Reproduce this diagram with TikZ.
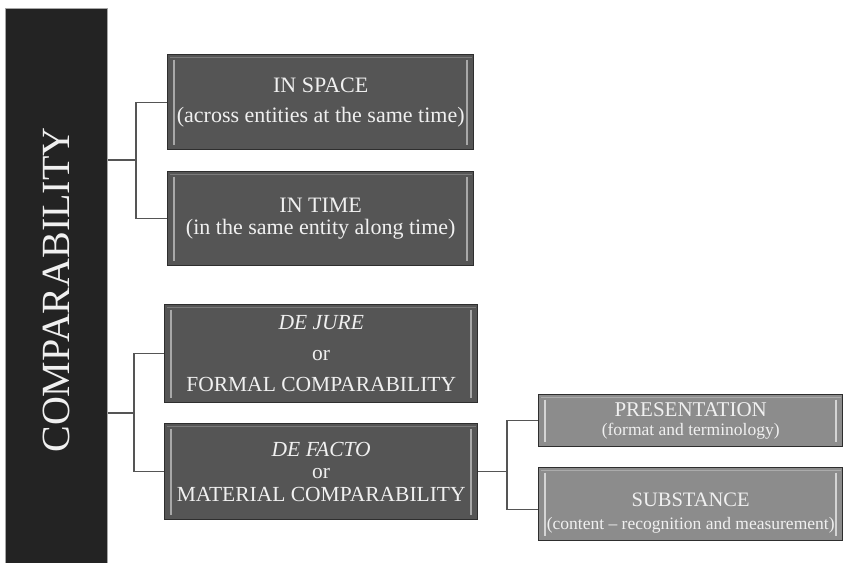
\documentclass[tikz,border=0pt]{standalone}
\usepackage{fontspec}
\setmainfont{Liberation Serif}
\definecolor{barc}{HTML}{232323}
\definecolor{darkbox}{HTML}{555555}
\definecolor{lightbox}{HTML}{8C8C8C}
\definecolor{edgec}{HTML}{2E2E2E}
\definecolor{txtc}{HTML}{F0F0F0}
\definecolor{connc}{HTML}{555555}
\definecolor{bevd}{HTML}{A8A8A8}
\definecolor{bevdt}{HTML}{7A7A7A}
\definecolor{bevl}{HTML}{D4D4D4}
\definecolor{bevlt}{HTML}{ABABAB}
\begin{document}
\begin{tikzpicture}[x=1pt,y=-1pt,
  bevel/.style 2 args={path picture={
    \draw[line width=1.6pt, draw=#1]
      ([shift={(6.5pt,-5pt)}]path picture bounding box.north west) --
      ([shift={(6.5pt,5pt)}]path picture bounding box.south west);
    \draw[line width=1.6pt, draw=#1]
      ([shift={(-6.5pt,-5pt)}]path picture bounding box.north east) --
      ([shift={(-6.5pt,5pt)}]path picture bounding box.south east);
    \draw[line width=1pt, draw=#2]
      ([shift={(2pt,-2.5pt)}]path picture bounding box.north west) --
      ([shift={(-2pt,-2.5pt)}]path picture bounding box.north east);
  }},
  boxd/.style={draw=edgec, line width=1.4pt, fill=darkbox, text=txtc,
    align=center, inner sep=0pt, anchor=north west, bevel={bevd}{bevdt}},
  boxl/.style={draw=edgec, line width=1.4pt, fill=lightbox, text=txtc,
    align=center, inner sep=0pt, anchor=north west, bevel={bevl}{bevlt}},
  conn/.style={draw=connc, line width=1.2pt},
]
\useasboundingbox (0,0) rectangle (843,562);

% left bar
\node[draw=gray!70, line width=0.8pt, fill=barc, anchor=north west,
  minimum width=102pt, minimum height=556pt, inner sep=0pt] (bar) at (5,8) {};
\node[rotate=90, text=txtc, font=\fontsize{40}{40}\selectfont] (bartext) at (56,290) {COMPARABILITY};

% boxes
\node[boxd, minimum width=306pt, minimum height=95pt,
  font=\fontsize{22}{30}\selectfont] (b1) at (167,54)
  {IN SPACE\\(across entities at the same time)};
\node[boxd, minimum width=306pt, minimum height=94pt,
  font=\fontsize{22}{22}\selectfont] (b2) at (167,171)
  {IN TIME\\(in the same entity along time)};
\node[boxd, minimum width=313pt, minimum height=98pt,
  font=\fontsize{21.5}{31}\selectfont] (b3) at (164,304)
  {\textit{DE JURE}\\or\\FORMAL COMPARABILITY};
\node[boxd, minimum width=313pt, minimum height=96pt,
  font=\fontsize{21.5}{22.5}\selectfont] (b4) at (164,423)
  {\textit{DE FACTO}\\or\\MATERIAL COMPARABILITY};
\node[boxl, minimum width=304pt, minimum height=52pt,
  font=\fontsize{17.5}{19}\selectfont] (b5) at (538,394)
  {{\fontsize{21}{19}\selectfont PRESENTATION}\\
   (format and terminology)};
\node[boxl, minimum width=304pt, minimum height=73pt,
  label={[name=t6, text=txtc, align=center, yshift=-9pt,
   font=\fontsize{17.5}{23}\selectfont]center:
   {\fontsize{20.5}{23}\selectfont SUBSTANCE}\\
   (content -- recognition and measurement)}] (b6) at (538,467) {};

% connectors
\coordinate (j1) at (136,160);
\coordinate (j2) at (134,413);
\coordinate (x3) at (507,0);
\coordinate (j3) at (b4.east -| x3);
\draw[conn] (bar.east |- j1) -- (j1);
\draw[conn] (b1.west) -| (j1) |- (b2.west);
\draw[conn] (bar.east |- j2) -- (j2);
\draw[conn] (b3.west) -| (j2) |- (b4.west);
\draw[conn] (b4.east) -- (j3);
\draw[conn] (b5.west) -| (j3) |- ([yshift=-5pt]b6.west);
\end{tikzpicture}
\end{document}
